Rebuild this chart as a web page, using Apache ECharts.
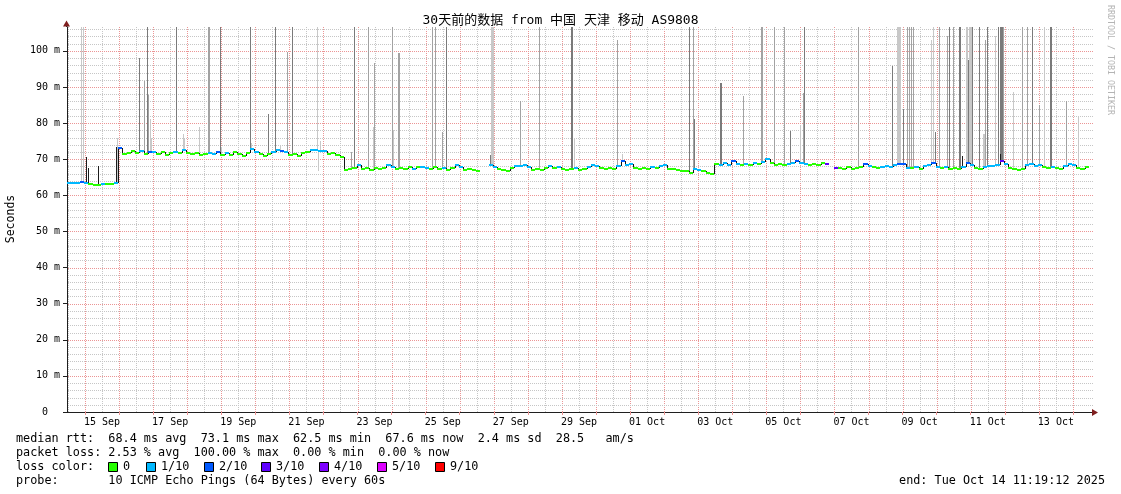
<!DOCTYPE html>
<html>
<head>
<meta charset="utf-8">
<script src="https://cdn.jsdelivr.net/npm/echarts@6/dist/echarts.min.js"></script>
<style>
html,body{margin:0;padding:0;background:#fff;}
#chart{width:1121px;height:494px;}
</style>
</head>
<body>
<div id="chart"></div>
<script>
// ---------------- data ----------------
const titleText = '30天前的数据 from 中国 天津 移动 AS9808';
const startTime = '2025-09-14 11:19:12';
const endTime = '2025-10-14 11:19:12';
const stepHours = 3;

// median rtt (ms), one value every 3 hours from startTime (null = no data)
const medianRtt = [
  63.3, 63.5, 63.4, 63.6, 63.4, 63.0, 62.8, 62.9, 63.2, 63.0,
  63.1, 63.4, 73.0, 71.4, 71.8, 72.2, 71.6, 72.4, 71.4, 72.0,
  72.1, 71.3, 71.9, 71.2, 71.8, 72.0, 71.6, 72.6, 71.8, 71.3,
  71.6, 71.1, 71.4, 71.8, 71.3, 72.0, 71.2, 71.8, 71.2, 71.9,
  71.4, 71.0, 71.6, 72.8, 72.1, 71.5, 71.0, 71.4, 72.0, 72.5,
  72.2, 71.9, 71.2, 71.5, 71.0, 71.6, 72.0, 72.5, 72.6, 72.4,
  72.2, 71.3, 71.8, 71.2, 70.6, 67.0, 67.3, 67.6, 68.4, 67.3,
  67.5, 67.1, 67.6, 67.3, 67.5, 68.3, 67.8, 67.2, 67.6, 67.4,
  67.7, 67.3, 67.8, 67.9, 67.5, 67.2, 67.7, 67.3, 67.6, 67.1,
  67.5, 68.4, 67.9, 66.9, 67.3, 67.0, 66.6, null, null, 68.5,
  67.7, 67.3, 67.0, 66.8, 67.5, 68.0, 68.0, 68.4, 67.9, 67.0,
  67.3, 67.0, 67.6, 68.2, 67.5, 67.8, 67.2, 66.9, 67.3, 67.6,
  67.0, 67.4, 67.9, 68.4, 68.0, 67.5, 67.2, 67.6, 67.3, 68.0,
  69.4, 68.3, 68.8, 67.6, 67.3, 67.5, 67.2, 67.8, 67.5, 68.2,
  68.5, 67.4, 67.2, 67.0, 66.8, 66.6, 66.3, 67.3, 67.0, 66.6,
  66.3, 66.0, 68.6, 68.4, 68.9, 68.5, 69.6, 68.7, 68.5, 68.8,
  68.4, 68.9, 68.6, 69.2, 70.1, 68.9, 68.5, 68.7, 68.3, 68.6,
  68.9, 69.4, 69.0, 68.6, 68.4, 68.8, 68.5, 68.9, 68.6, null,
  67.5, 67.6, 67.2, 67.8, 67.4, 67.6, 67.7, 68.8, 68.2, 67.7,
  67.5, 67.9, 68.0, 67.7, 68.4, 68.6, 68.8, 67.6, 67.5, 67.9,
  67.4, 68.1, 68.3, 68.9, 67.8, 67.5, 67.7, 67.4, 67.6, 67.3,
  67.9, 69.0, 68.4, 67.5, 67.3, 67.7, 68.2, 68.0, 68.4, 69.6,
  68.6, 67.6, 67.3, 67.0, 67.4, 68.3, 68.6, 68.2, 68.4, 67.8,
  67.5, 67.9, 67.6, 67.3, 68.2, 68.7, 68.3, 67.6, 67.4, 67.8,
  67.6
];

// packet-loss class of each median sample (index into lossLabels)
const lossLevel = [
  1,1,1,2,1,0,0,0,1,0,
  0,1,2,0,0,0,0,1,0,2,
  1,0,0,0,0,1,0,1,0,0,
  0,0,0,1,1,2,0,1,0,0,
  0,0,0,1,1,0,0,0,1,1,
  2,1,0,0,0,0,0,1,1,1,
  1,0,0,0,0,0,0,0,1,0,
  0,0,0,0,0,1,1,0,0,0,
  0,1,0,1,1,0,0,0,1,0,
  0,1,1,0,0,0,0,0,0,1,
  1,0,0,0,0,1,1,1,1,0,
  0,0,0,1,0,1,0,0,0,1,
  0,0,1,1,1,0,0,0,0,1,
  2,1,1,0,0,0,0,1,0,1,
  1,0,0,0,0,0,0,1,1,0,
  0,0,0,1,1,1,2,1,0,1,
  0,1,0,1,1,0,0,0,0,1,
  1,2,1,1,0,0,0,0,3,0,
  3,0,0,0,0,0,0,2,1,0,
  0,1,1,1,1,2,2,1,0,1,
  0,1,1,2,1,0,1,0,0,0,
  1,2,1,0,0,1,1,1,1,3,
  1,0,0,0,0,1,1,1,1,0,
  0,1,0,0,1,1,1,0,0,0,
  0
];

const lossLabels = ['0', '1/10', '2/10', '3/10', '4/10', '5/10', '9/10'];
const lossColors = ['#26ff00', '#00b8ff', '#0059ff', '#5e00ff', '#7e00ff', '#dd00ff', '#ff0000'];

// smoke: [hours after startTime, rtt reached (ms), grey shade index]
const smoke = [
  [9.9,107,0],[11.3,107,0],
  [13.4,70.7,3],[14.8,67.5,3],[21.8,68.2,3],[34.5,73.5,3],[35.2,76,0],
  [50.7,98,2],[54.2,91.7,1],[56.4,107,2],[57.1,87.8,1],[58.5,81,0],[59.2,76,0],
  [76.8,107,2],[81.7,77,0],[82.4,75.5,0],[93.0,79,0],[99.3,107,1],[100.0,107,1],
  [107.8,107,2],[108.5,73.5,0],[128.9,107,2],[129.6,74.5,0],[141.6,82.5,2],[146.5,107,2],
  [150.1,74,0],[155.0,99.7,1],[158.5,107,2],[176.1,107,0],[176.8,66.8,0],[178.2,75,0],
  [200.1,72,1],[202.2,107,2],[212.1,107,1],[215.6,79,0],[216.3,96.7,1],[228.9,107,1],[229.7,78,0],
  [233.2,99.4,1],[233.9,99.4,1],[257.2,107,1],[259.3,107,1],[264.2,77.6,1],[267.0,107,2],
  [298.0,71.1,2],[298.7,107,0],[299.4,107,0],[300.1,107,0],[319.1,86,1],[332.5,107,1],
  [355.1,107,2],[355.8,107,2],[357.2,76,0],
  [387.5,103,1],[391.0,71.5,0],
  [438.2,107,2],[441.0,107,1],[441.7,81,2],[460.1,91,2],[460.8,91,2],[476.3,87.5,1],
  [489.0,107,1],[489.6,107,1],[498.1,107,1],[505.1,107,1],[509.4,77.8,2],[516.4,79.5,0],[518.5,88.4,1],[519.2,107,2],
  [557.3,107,1],[581.2,95.8,2],[584.8,107,0],[585.5,107,0],[586.2,107,0],[586.9,107,0],[589.0,84,2],
  [591.8,107,1],[593.2,107,1],[594.6,107,1],[596.0,107,1],[608.7,103,0],[610.1,107,0],[611.5,77.5,2],
  [614.3,107,1],[619.9,104,1],[621.4,107,2],[624.2,107,1],[628.4,107,2],[629.1,107,2],[630.5,71,3],
  [633.4,107,0],[634.1,107,0],[634.8,97.5,2],[635.5,107,0],[636.2,107,0],[636.9,107,0],[637.6,107,2],
  [642.5,107,2],[645.3,77,0],[646.0,77,0],[646.7,103,1],[648.2,107,2],[653.8,104,0],[655.9,107,2],
  [657.3,107,2],[658.0,107,2],[658.7,107,2],[659.4,107,1],[657.3,71.5,3],
  [666.5,88.6,0],[672.8,107,1],[676.3,107,1],[679.9,107,2],[684.8,85,1],[688.3,107,0],[692.5,107,2],[693.3,107,2],
  [703.8,86,1],[712.3,82,0]
];
const smokeShades = ['#c8c8c8', '#a2a2a2', '#7a7a7a', '#1c1c1c'];

// x tick labels (placed at noon of the day)
const xLabels = ['15 Sep','17 Sep','19 Sep','21 Sep','23 Sep','25 Sep','27 Sep','29 Sep',
                 '01 Oct','03 Oct','05 Oct','07 Oct','09 Oct','11 Oct','13 Oct'];
const xLabelTimes = ['2025-09-15 12:00','2025-09-17 12:00','2025-09-19 12:00','2025-09-21 12:00',
                     '2025-09-23 12:00','2025-09-25 12:00','2025-09-27 12:00','2025-09-29 12:00',
                     '2025-10-01 12:00','2025-10-03 12:00','2025-10-05 12:00','2025-10-07 12:00',
                     '2025-10-09 12:00','2025-10-11 12:00','2025-10-13 12:00'];
// y ticks (ms) and their labels
const yTicks = [0, 10, 20, 30, 40, 50, 60, 70, 80, 90, 100];
const yTickLabels = ['0  ', '10 m', '20 m', '30 m', '40 m', '50 m', '60 m', '70 m', '80 m', '90 m', '100 m'];
const yMinorStep = 2;
const yMax = 106.6;

const rttStats = { avg: '68.4', max: '73.1', min: '62.5', now: '67.6', sd: '2.4', am: '28.5' };
const lossStats = { avg: '2.53', max: '100.00', min: '0.00', now: '0.00' };
const probeText = '10 ICMP Echo Pings (64 Bytes) every 60s';
const endText = 'end: Tue Oct 14 11:19:12 2025';

// ---------------- helpers ----------------
function parseTime(s) {
  const m = /^(\d{4})-(\d{2})-(\d{2})(?:[ T](\d{2}):(\d{2})(?::(\d{2}))?)?$/.exec(s);
  return new Date(+m[1], +m[2] - 1, +m[3], +(m[4] || 0), +(m[5] || 0), +(m[6] || 0)).getTime();
}
const t0 = parseTime(startTime), t1 = parseTime(endTime);
const stepMs = stepHours * 3600e3;
const HOUR = 3600e3;

const medianData = medianRtt.map((v, i) => [t0 + i * stepMs, v, lossLevel[i],
  i + 1 < medianRtt.length ? medianRtt[i + 1] : null]);
const smokeData = smoke.map(s => [t0 + s[0] * HOUR, s[1], s[2]]);

function medianAt(t) {
  const i = Math.max(0, Math.min(medianRtt.length - 1, Math.floor((t - t0) / stepMs)));
  let v = medianRtt[i];
  if (v == null) v = medianRtt[i - 1] != null ? medianRtt[i - 1] : medianRtt[i + 1];
  return v;
}

// grid lines: midnight (major) and noon (minor) verticals, 10 ms (major) / 2 ms (minor) horizontals
const d0 = new Date(t0);
const vGrid = [];
for (let k = 0; k < 33; k++) {
  const m = new Date(d0.getFullYear(), d0.getMonth(), d0.getDate() + k).getTime();
  const n = new Date(d0.getFullYear(), d0.getMonth(), d0.getDate() + k, 12).getTime();
  if (m > t0 && m < t1) vGrid.push([m, 0, 0]);
  if (n > t0 && n < t1) vGrid.push([n, 0, 1]);
}
const hGrid = [];
yTicks.forEach(v => { if (v > 0) hGrid.push([t0, v, 0]); });
for (let v = yMinorStep; v < yMax; v += yMinorStep) {
  if (v % 10 !== 0) hGrid.push([t0, v, 1]);
}
const midnights = vGrid.filter(g => g[2] === 0).map(g => g[0]);
const labelTs = xLabelTimes.map(parseTime);
const labelMap = {};
labelTs.forEach((t, i) => { labelMap[t] = xLabels[i]; });

// ---------------- layout / style ----------------
const mono = "'DejaVu Sans Mono', 'Noto Sans CJK SC', monospace";
const G = { left: 67, top: 27, width: 1022, height: 385 };
const gridRight = 1093;
const gridColors = ['#eb9595', '#c6c6c6'];
const axisColor = '#1f1f1f';
const arrowColor = '#7f1f1f';
const legendFont = '11.8px ' + mono;
const legendX = 16;
const lineY = [439, 453, 467, 481];

const chart = echarts.init(document.getElementById('chart'), null, { renderer: 'canvas' });

const graphics = [];
function text(x, y, s, extra) {
  const el = { type: 'text', x: x, y: y, silent: true,
    style: Object.assign({ text: s, font: legendFont, fill: '#000', align: 'left', verticalAlign: 'middle' }, (extra && extra.style) || {}) };
  if (extra && extra.rotation != null) el.rotation = extra.rotation;
  graphics.push(el);
}
text(560.5, 21, titleText, { style: { font: '13px ' + mono, align: 'center' } });
text(11, 219, 'Seconds', { rotation: Math.PI / 2, style: { font: '11.5px ' + mono, align: 'center' } });
text(1110, 60, 'RRDTOOL / TOBI OETIKER', { rotation: -Math.PI / 2, style: { font: '8.3px ' + mono, align: 'center', fill: '#b4b4b4' } });

const line1 = 'median rtt:  ' + rttStats.avg + ' ms avg  ' + rttStats.max + ' ms max  ' + rttStats.min +
  ' ms min  ' + rttStats.now + ' ms now  ' + rttStats.sd + ' ms sd  ' + rttStats.am + '   am/s';
const line2 = 'packet loss: ' + lossStats.avg + ' % avg  ' + lossStats.max + ' % max  ' + lossStats.min +
  ' % min  ' + lossStats.now + ' % now';
text(legendX, lineY[0], line1);
text(legendX, lineY[1], line2);
text(legendX, lineY[2], 'loss color:');
const boxX = [108, 146, 204, 261, 319, 377, 435];
lossLabels.forEach((s, i) => {
  graphics.push({ type: 'rect', silent: true,
    shape: { x: boxX[i] + 0.5, y: lineY[2] - 4.5, width: 9, height: 9 },
    style: { fill: lossColors[i], stroke: '#000', lineWidth: 1 } });
  text(boxX[i] + 15, lineY[2], s);
});
text(legendX, lineY[3], 'probe:       ' + probeText);
text(1105, lineY[3], endText, { style: { align: 'right' } });

// axis arrows / extension
const axY = G.top + G.height + 0.5;
graphics.push({ type: 'line', silent: true, shape: { x1: G.left + G.width, y1: axY, x2: gridRight, y2: axY }, style: { stroke: axisColor, lineWidth: 1 } });
graphics.push({ type: 'polygon', silent: true, shape: { points: [[1092, axY - 3.5], [1092, axY + 3.5], [1098, axY]] }, style: { fill: arrowColor } });
graphics.push({ type: 'line', silent: true, shape: { x1: G.left - 0.5, y1: G.top, x2: G.left - 0.5, y2: 25 }, style: { stroke: axisColor, lineWidth: 1 } });
graphics.push({ type: 'polygon', silent: true, shape: { points: [[G.left - 4, 26.5], [G.left + 3, 26.5], [G.left - 0.5, 20.5]] }, style: { fill: arrowColor } });

function gridLine(x1, y1, x2, y2, kind) {
  return { type: 'group', children: [{ type: 'line', shape: { x1: x1, y1: y1, x2: x2, y2: y2 },
    style: { stroke: gridColors[kind], fill: null, lineWidth: 1, lineDash: [1, 1] } }] };
}

const option = {
  animation: false,
  backgroundColor: '#fff',
  grid: Object.assign({ containLabel: false, outerBoundsMode: 'none' }, G),
  xAxis: {
    type: 'value', min: t0, max: t1, scale: true,
    axisLine: { show: true, lineStyle: { color: axisColor, width: 1 } },
    axisTick: { show: true, customValues: midnights, length: 3, lineStyle: { color: gridColors[0] } },
    axisLabel: { customValues: labelTs, formatter: v => labelMap[v] || '', fontFamily: mono, fontSize: 10, color: '#000', margin: 5 },
    splitLine: { show: false }
  },
  yAxis: {
    type: 'value', min: 0, max: yMax, interval: 10,
    axisLine: { show: true, lineStyle: { color: axisColor, width: 1 } },
    axisTick: { show: true, customValues: yTicks, length: 4, lineStyle: { color: axisColor } },
    axisLabel: { customValues: yTicks, formatter: v => yTickLabels[yTicks.indexOf(v)] || '', fontFamily: mono, fontSize: 10, color: '#000', margin: 7 },
    splitLine: { show: false },
    minorSplitLine: { show: false }
  },
  series: [
    {
      type: 'custom', name: 'vgrid', silent: true, clip: false, z: 1,
      encode: { x: 0, y: 1 },
      data: vGrid,
      renderItem: function (params, api) {
        const cs = params.coordSys;
        const x = Math.round(api.coord([api.value(0), 0])[0]) + 0.5;
        return gridLine(x, cs.y, x, cs.y + cs.height, api.value(2));
      }
    },
    {
      type: 'custom', name: 'hgrid', silent: true, clip: false, z: 1,
      encode: { x: 0, y: 1 },
      data: hGrid,
      renderItem: function (params, api) {
        const cs = params.coordSys;
        const y = Math.round(api.coord([api.value(0), api.value(1)])[1]) + 0.5;
        return gridLine(cs.x + 1, y, gridRight, y, api.value(2));
      }
    },
    {
      type: 'custom', name: 'smoke', clip: true, z: 2,
      encode: { x: 0, y: 1 },
      data: smokeData,
      renderItem: function (params, api) {
        const t = api.value(0), v = api.value(1), s = api.value(2);
        const base = medianAt(t);
        const p1 = api.coord([t, v]);
        const p0 = api.coord([t, base]);
        const x = Math.round(p1[0]);
        const ya = Math.round(Math.min(p0[1], p1[1]));
        const yb = Math.round(Math.max(p0[1], p1[1]));
        return { type: 'group', children: [{ type: 'rect', shape: { x: x, y: ya, width: 1, height: yb - ya },
          style: { fill: smokeShades[s], stroke: null } }] };
      }
    },
    {
      type: 'custom', name: 'median rtt', clip: true, z: 3,
      encode: { x: 0, y: 1 },
      data: medianData,
      renderItem: function (params, api) {
        const t = api.value(0), v = api.value(1), loss = api.value(2), vn = api.value(3);
        if (isNaN(v)) return null;
        const a = api.coord([t, v]);
        const b = api.coord([t + stepMs, v]);
        const xa = Math.round(a[0]), xb = Math.round(b[0]), y = Math.round(a[1]);
        const children = [{ type: 'line', shape: { x1: xa, y1: y, x2: xb, y2: y },
          style: { stroke: lossColors[loss], lineWidth: 2 } }];
        if (!isNaN(vn)) {
          const yn = Math.round(api.coord([t + stepMs, vn])[1]);
          if (yn !== y) {
            children.push({ type: 'line', shape: { x1: xb + 0.5, y1: y, x2: xb + 0.5, y2: yn },
              style: { stroke: '#141414', lineWidth: 1 } });
          }
        }
        return { type: 'group', children: children };
      }
    }
  ],
  graphic: { elements: graphics }
};
chart.setOption(option);
</script>
</body>
</html>
